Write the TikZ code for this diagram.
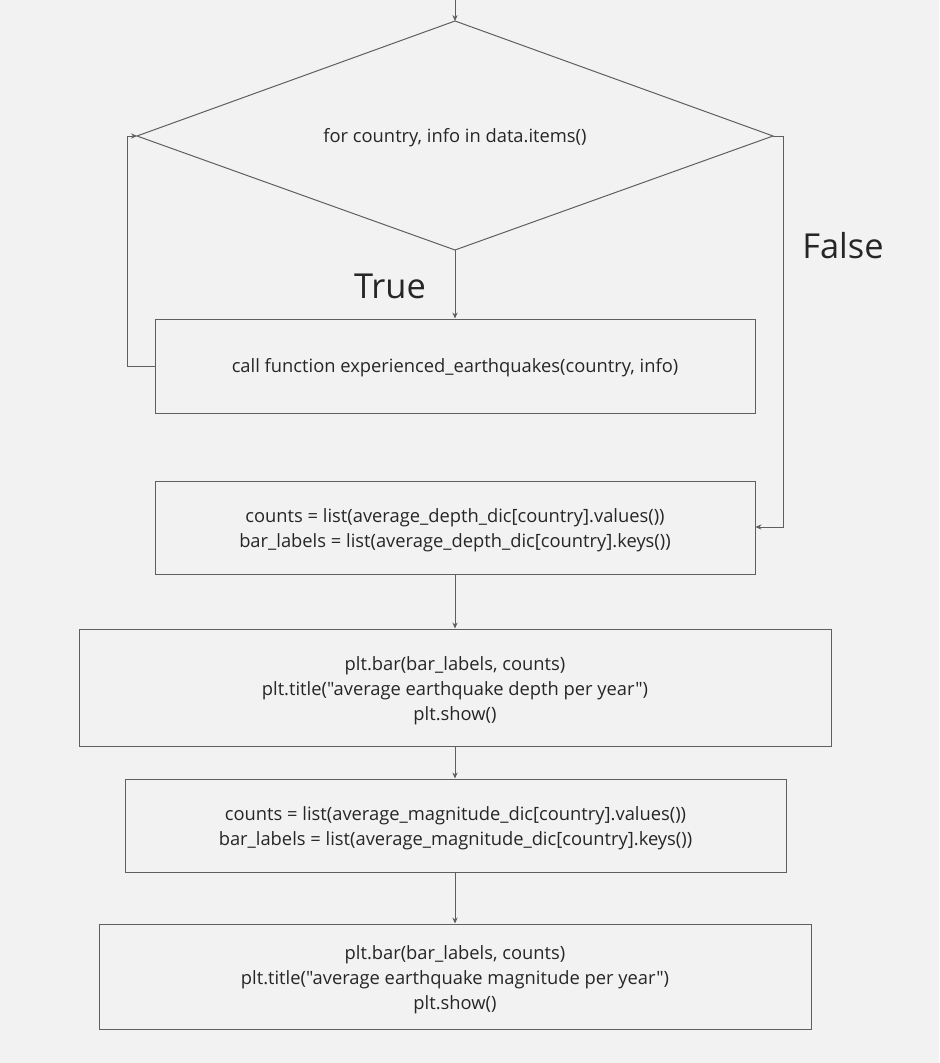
\documentclass[tikz,border=0pt]{standalone}
\usepackage{fontspec}
\setmainfont{Open Sans}[Ligatures=TeXOff]
\usetikzlibrary{arrows.meta}
\definecolor{bg}{HTML}{F2F2F2}
\definecolor{ln}{HTML}{5F5F5F}
\definecolor{tx}{HTML}{262626}
\begin{document}
\begin{tikzpicture}[x=0.75pt,y=-0.75pt,
  line width=0.75pt,
  conn/.style={draw=ln,-{Stealth[length=4.5pt,width=4pt]}},
  boxs/.style={draw=ln,fill=bg,inner sep=0pt},
  txt/.style={align=center,font=\fontsize{13.75}{18.75}\selectfont,text=tx,inner sep=0pt},
  lbl/.style={font=\fontsize{25.8}{30}\selectfont,text=tx,inner sep=0pt}]
\fill[bg] (0,0) rectangle (939,1063);
\useasboundingbox (0,0) rectangle (939,1063);
\coordinate (start) at (455,0);
\coordinate (dt) at (455,21);
\coordinate (dl) at (137,136);
\coordinate (dr) at (773,136);
\coordinate (db) at (455,250);
\draw[ln] (dt) -- (dr) -- (db) -- (dl) -- cycle;
\node[txt] (dtext) at (455,138) {for country, info in data.items()};
\node[boxs,minimum width=600*0.75pt,minimum height=94*0.75pt] (b1) at (455,366) {};
\node[txt] (t1) at (455,368) {call function experienced\_earthquakes(country, info)};
\node[boxs,minimum width=600*0.75pt,minimum height=93*0.75pt] (b2) at (455,527.5) {};
\node[txt] (t2) at (455,530) {counts = list(average\_depth\_dic[country].values())\\bar\_labels = list(average\_depth\_dic[country].keys())};
\node[boxs,minimum width=752*0.75pt,minimum height=117*0.75pt] (b3) at (455,687.5) {};
\node[txt] (t3) at (455,690.5) {plt.bar(bar\_labels, counts)\\plt.title("average earthquake depth per year")\\plt.show()};
\node[boxs,minimum width=661*0.75pt,minimum height=93*0.75pt] (b4) at (455.5,825.5) {};
\node[txt] (t4) at (455.5,828) {counts = list(average\_magnitude\_dic[country].values())\\bar\_labels = list(average\_magnitude\_dic[country].keys())};
\node[boxs,minimum width=712*0.75pt,minimum height=105*0.75pt] (b5) at (455,976.5) {};
\node[txt] (t5) at (455,979.5) {plt.bar(bar\_labels, counts)\\plt.title("average earthquake magnitude per year")\\plt.show()};
\node[lbl] (ltrue) at (390,286) {True};
\node[lbl] (lfalse) at (843,246) {False};
\draw[conn] (start) -- (dt);
\draw[conn] (db) -- (b1.north);
\coordinate (lp1) at (127,366);
\coordinate (lp2) at (127,136);
\draw[conn] (b1.west) -- (lp1) -- (lp2) -- (dl);
\coordinate (fp1) at (783,136);
\coordinate (fp2) at (783,527);
\draw[conn] (dr) -- (fp1) -- (fp2) -- (b2.east |- fp2);
\draw[conn] (b2.south) -- (b3.north);
\draw[conn] (b3.south) -- (b3.south |- b4.north);
\draw[conn] (b4.south -| b3.south) -- (b3.south |- b5.north);
\end{tikzpicture}
\end{document}
